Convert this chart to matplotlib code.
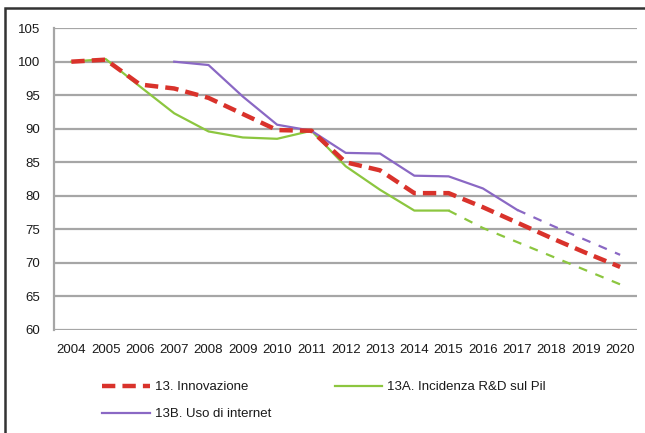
import matplotlib.pyplot as plt
import numpy as np
from matplotlib.patches import Rectangle

plt.rcParams['font.family'] = ['Liberation Sans', 'DejaVu Sans']

# anni (asse delle categorie)
anni = [str(a) for a in range(2004, 2021)]
# 13. Innovazione
innovazione = [100, 100.3, 96.6, 96.0, 94.6, 92.2, 89.8, 89.7, 85.0, 83.8, 80.4, 80.4, 78.3, 76.0, 73.7, 71.5, 69.4]
# 13A. Incidenza R&D sul Pil (dato osservato fino al 2015, poi tendenza)
rd_pil = [100, 100.4, 96.3, 92.3, 89.6, 88.7, 88.5, 89.7, 84.4, 80.9, 77.8, 77.8, 75.2, 73.1, 71.0, 68.9, 66.8]
# 13B. Uso di internet (dal 2007; osservato fino al 2017)
internet = [np.nan, np.nan, np.nan, 100, 99.5, 94.8, 90.6, 89.7, 86.4, 86.3, 83.0, 82.9, 81.1, 77.9, 75.6, 73.4, 71.2]
ultimo_rd = 11        # 2015
ultimo_internet = 13  # 2017

x = np.arange(len(anni))
rd = np.array(rd_pil)
net = np.array(internet)

fig = plt.figure(figsize=(6.45, 4.33), dpi=100)
ax = fig.add_axes([0.084, 0.238, 0.904, 0.697])

verde = '#8cc63f'
viola = '#8a68c4'
rosso = '#d9322b'

ax.plot(x[:ultimo_rd + 1], rd[:ultimo_rd + 1], color=verde, lw=1.6, label='13A. Incidenza R&D sul Pil', zorder=3)
ax.plot(x[ultimo_rd:], rd[ultimo_rd:], color=verde, lw=1.6, dashes=(4, 4), zorder=3)
ax.plot(x[:ultimo_internet + 1], net[:ultimo_internet + 1], color=viola, lw=1.6, label='13B. Uso di internet', zorder=3)
ax.plot(x[ultimo_internet:], net[ultimo_internet:], color=viola, lw=1.6, dashes=(4, 4), zorder=3)
ax.plot(x, innovazione, color=rosso, lw=3.2, dashes=(3, 1.6), label='13. Innovazione', zorder=4)

ax.set_ylim(60, 105)
ax.set_yticks(range(60, 106, 5))
ax.set_xlim(-0.5, len(anni) - 0.5)
ax.set_xticks(x)
ax.set_xticklabels(anni)
ax.yaxis.grid(True, color='#a6a6a6', lw=1.6)
ax.set_axisbelow(True)
for s in ['top', 'right', 'bottom']:
    ax.spines[s].set_visible(False)
ax.spines['left'].set_color('#a6a6a6')
ax.spines['left'].set_linewidth(1.6)
ax.tick_params(length=0, labelsize=9.5, colors='#1a1a1a')
ax.tick_params(axis='y', pad=10)
ax.tick_params(axis='x', pad=10)

h, l = ax.get_legend_handles_labels()
ordine = [2, 1, 0]
fig.legend([h[i] for i in ordine], [l[i] for i in ordine], ncol=2, frameon=False,
           loc='upper left', bbox_to_anchor=(0.14, 0.147), fontsize=9.5,
           handlelength=3.6, columnspacing=4.8, labelspacing=1.1, handletextpad=0.4,
           labelcolor='#1a1a1a')

fig.add_artist(Rectangle((5 / 645, -0.1), 1.2, 1 - 8 / 433 + 0.1, transform=fig.transFigure,
                         fill=False, ec='#333333', lw=1.8))

fig.savefig('out.png', dpi=100)
